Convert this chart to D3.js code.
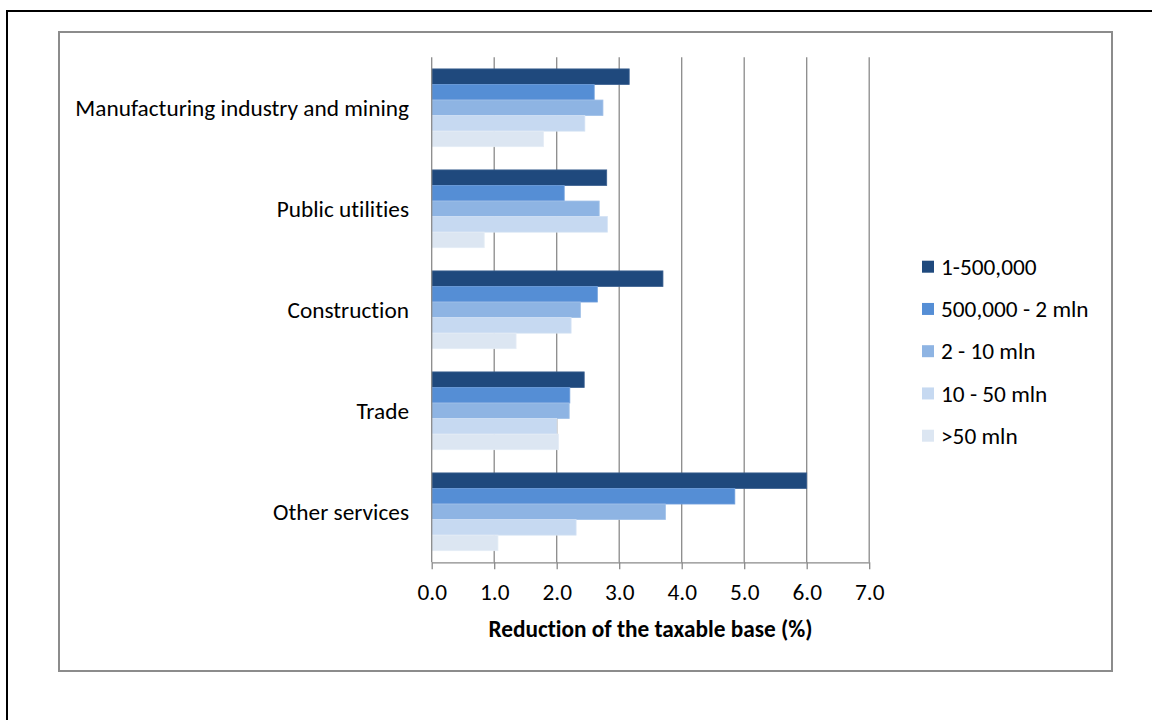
<!DOCTYPE html>
<html>
<head>
<meta charset="utf-8">
<script src="https://cdn.jsdelivr.net/npm/d3@7"></script>
<style>
  body { margin: 0; background: #fff; }
  svg text { font-family: Calibri, Carlito, "Open Sans", sans-serif; fill: #000; font-variant-ligatures: none; }
</style>
</head>
<body>
<div id="chart"></div>
<script>
// categories (top to bottom) and size classes
const categories = ["Manufacturing industry and mining", "Public utilities", "Construction", "Trade", "Other services"]
const seriesNames = ["1-500,000", "500,000 - 2 mln", "2 - 10 mln", "10 - 50 mln", ">50 mln"]

// values per series, same order as categories
const s1 = [3.16, 2.80, 3.70, 2.44, 6.00]
const s2 = [2.60, 2.12, 2.65, 2.21, 4.85]
const s3 = [2.74, 2.68, 2.38, 2.20, 3.74]
const s4 = [2.45, 2.81, 2.23, 2.00, 2.31]
const s5 = [1.79, 0.84, 1.35, 2.03, 1.06]

const xTicks = [0, 1, 2, 3, 4, 5, 6, 7]
const xTitle = "Reduction of the taxable base (%)"

const colors = ["#1F497D", "#558ED5", "#8EB4E3", "#C6D9F1", "#DCE6F2"]
const strokes = ["#3a5f8f", "#6f9fdc", "#a2c1e8", "#d3e2f4", "#e5edf6"]

const allSeries = [s1, s2, s3, s4, s5]

const W = 1152, H = 720
const FS = 23.3
const svg = d3.select("#chart").append("svg")
    .attr("width", W)
    .attr("height", H)

// outer frame (black) and chart area frame (grey)
svg.append("rect")
    .attr("x", 7).attr("y", 11)
    .attr("width", 1170).attr("height", 730)
    .attr("fill", "none").attr("stroke", "#000").attr("stroke-width", 2)
svg.append("rect")
    .attr("x", 59).attr("y", 32)
    .attr("width", 1053).attr("height", 639)
    .attr("fill", "#fff").attr("stroke", "#8c8c8c").attr("stroke-width", 2)

const plot = { left: 431.7, right: 869.2, top: 57.3, bottom: 562.3 }

const x = d3.scaleLinear().domain([0, 7]).range([plot.left, plot.right])
const y = d3.scaleBand().domain(categories)
    .range([plot.top, plot.bottom])
    .paddingInner(0.23).paddingOuter(0.115)
const yInner = d3.scaleBand().domain(d3.range(seriesNames.length))
    .range([0, y.bandwidth()])

// gridlines
svg.append("g")
    .selectAll("line")
    .data(xTicks.slice(1))
    .enter()
    .append("line")
        .attr("x1", d => x(d)).attr("x2", d => x(d))
        .attr("y1", plot.top).attr("y2", plot.bottom)
        .attr("stroke", "#8a8a8a")
        .attr("stroke-width", 1.3)

// bars
const rows = []
categories.forEach((c, ci) => {
    allSeries.forEach((s, si) => {
        rows.push({ cat: c, si: si, v: s[ci] })
    })
})

svg.append("g")
    .selectAll("rect")
    .data(rows)
    .enter()
    .append("rect")
        .attr("x", x(0))
        .attr("y", d => y(d.cat) + yInner(d.si))
        .attr("width", d => x(d.v) - x(0))
        .attr("height", yInner.bandwidth())
        .attr("fill", d => colors[d.si])
        .attr("stroke", d => strokes[d.si])
        .attr("stroke-width", 0.8)

// x axis
const xAxis = svg.append("g")
    .attr("transform", `translate(0,${plot.bottom})`)
    .call(d3.axisBottom(x).tickValues(xTicks).tickFormat(d3.format(".1f")).tickSize(7).tickSizeOuter(0).tickPadding(14))
xAxis.select(".domain").attr("stroke", "#8a8a8a").attr("stroke-width", 1.3)
xAxis.selectAll(".tick line").attr("stroke", "#8a8a8a").attr("stroke-width", 1.3)
xAxis.selectAll(".tick text")
    .attr("font-size", FS)
    .attr("font-family", "Calibri, Carlito, 'Open Sans', sans-serif")
    .attr("fill", "#000")

// y axis line
svg.append("line")
    .attr("x1", x(0)).attr("x2", x(0))
    .attr("y1", plot.top).attr("y2", plot.bottom)
    .attr("stroke", "#8a8a8a").attr("stroke-width", 1.3)

// category labels
svg.append("g")
    .selectAll("text")
    .data(categories)
    .enter()
    .append("text")
        .attr("x", 409)
        .attr("y", d => y(d) + y.bandwidth() / 2)
        .attr("dy", "0.36em")
        .attr("text-anchor", "end")
        .attr("font-size", FS)
        .text(d => d)

// axis title
svg.append("text")
    .attr("x", (plot.left + plot.right) / 2)
    .attr("y", 637)
    .attr("text-anchor", "middle")
    .attr("font-size", FS)
    .attr("font-weight", "bold")
    .text(xTitle)

// legend
const legend = svg.append("g")
    .selectAll("g")
    .data(seriesNames)
    .enter()
    .append("g")
        .attr("transform", (d, i) => `translate(922,${266.7 + i * 42.25})`)
legend.append("rect")
    .attr("x", 0).attr("y", -6)
    .attr("width", 12).attr("height", 12)
    .attr("fill", (d, i) => colors[i])
legend.append("text")
    .attr("x", 19)
    .attr("dy", "0.35em")
    .attr("font-size", FS)
    .text(d => d)
</script>
</body>
</html>
